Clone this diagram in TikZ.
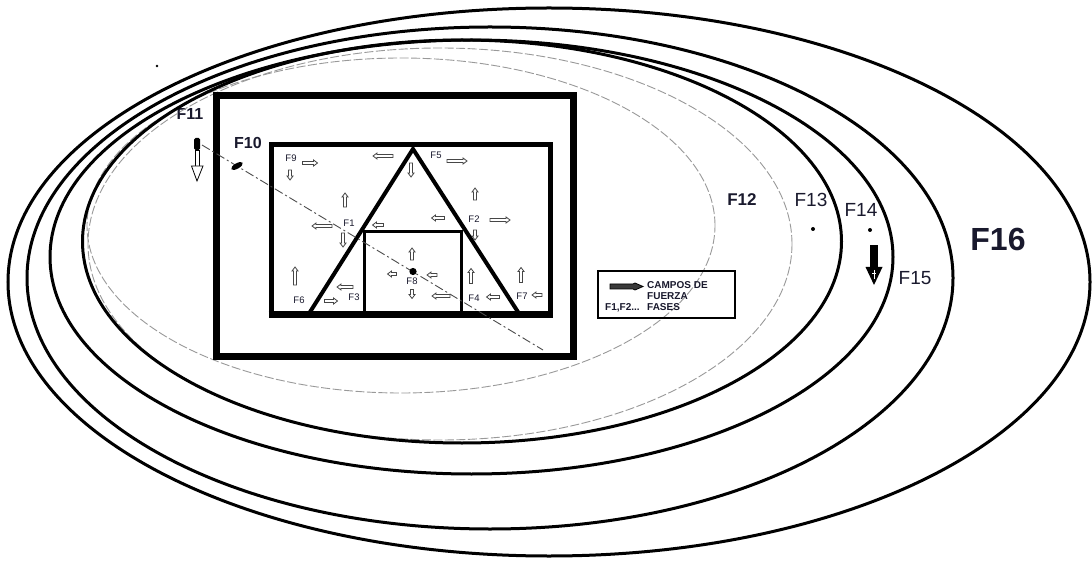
\documentclass[tikz,border=0pt]{standalone}
\usepackage{fontspec}
\setmainfont{Liberation Sans}
\definecolor{labc}{RGB}{25,25,45}
\newcommand\fldarrow[4]{\draw[fld, shift={(#1,#2)}, rotate=#3] (-#4/2,-1.5) -- (#4/2-4,-1.5) -- (#4/2-4,-3) -- (#4/2,0) -- (#4/2-4,3) -- (#4/2-4,1.5) -- (-#4/2,1.5) -- cycle;}
\begin{document}
\begin{tikzpicture}[x=1pt,y=-1pt,
  ell/.style={line width=3pt},
  gell/.style={draw=gray!80, line width=0.9pt, dash pattern=on 9pt off 2.5pt},
  diag/.style={draw=gray!60!black, line width=0.9pt, dash pattern=on 9pt off 3pt on 2pt off 3pt},
  fld/.style={draw=gray!55!black, fill=white, line width=0.8pt},
  small/.style={font=\fontsize{9.5}{9.5}\selectfont, text=labc, inner sep=0pt},
  big/.style={font=\fontsize{19}{19}\selectfont, text=labc, inner sep=0pt},
  bigb/.style={font=\bfseries\fontsize{16}{16}\selectfont, text=labc, inner sep=0pt},
  leg/.style={font=\bfseries\fontsize{10}{10}\selectfont, text=labc, inner sep=0pt, anchor=base west}]

\fill[white] (0,0) rectangle (1092,561);
\useasboundingbox (0,0) rectangle (1092,561);

% labels outside the rectangles
\node[bigb] (f11) at (190,114) {F11};
\node[bigb] (f10) at (248,142.5) {F10};
\node[font=\bfseries\fontsize{17}{17}\selectfont, text=labc, inner sep=0pt] (f12) at (742,200) {F12};
\node[big] (f13) at (811,200) {F13};
\node[big] (f14) at (861,210) {F14};
\node[big] (f15) at (915,278) {F15};
\node[font=\bfseries\fontsize{32}{32}\selectfont, text=labc, inner sep=0pt] (f16) at (998,239) {F16};

% grey dashed ellipses
\draw[gell] (440,244) ellipse [x radius=352pt, y radius=196pt];
\draw[gell] (401,225.5) ellipse [x radius=314pt, y radius=167.5pt];

% black ellipses
\draw[ell] (549,282) ellipse [x radius=541pt, y radius=274pt];
\draw[ell] (490,278) ellipse [x radius=463pt, y radius=251pt];
\draw[ell] (471.5,257) ellipse [x radius=421.5pt, y radius=217pt];
\draw[ell] (462,241.5) ellipse [x radius=379.5pt, y radius=201.5pt];

% stray dot
\fill (157,66) circle[radius=1.3pt];

% outer rectangle
\draw[line width=7pt] (216.5,95.5) rectangle (573,356.5);
% inner rectangle
\draw[line width=5pt] (271,145) rectangle (550,313);
\draw[line width=7pt] (268.5,314) -- (552.5,314);
% triangle
\draw[line width=4pt, line join=miter] (310,312) -- (413,149) -- (518,312);
% inner square
\draw[line width=3pt] (364,312) -- (364,232) -- (461,232) -- (461,312);

% diagonal dashed line
\coordinate (d1) at (202,145);
\coordinate (d2) at (543,350);
\draw[diag] (d1) -- (d2);

% F11 marker
\fill[rounded corners=1.5pt] (194,138) rectangle (200,150);
\draw[line width=0.8pt, fill=white] (195,150) rectangle (199.5,167);
\draw[line width=0.8pt, fill=white] (191.5,166) -- (203,166) -- (197,181) -- cycle;
% F10 marker
\fill[rotate around={30:(237,166)}] (237,166) ellipse [x radius=6.5pt, y radius=2.7pt];
% F8 dot
\fill (413,271.5) circle[radius=3.6pt];
% F13, F14 dots
\fill (813,229) circle[radius=2pt];
\fill (870,230) circle[radius=2pt];
% F15 marker
\fill (870,245) rectangle (878,268);
\fill (865.5,267) -- (882.5,267) -- (874,285) -- cycle;
\draw[white, line width=0.8pt] (874,270) -- (874,279) (872,273) -- (876,273);

% small labels
\node[small] (f9) at (291,158) {F9};
\node[small] (f1) at (349,223) {F1};
\node[small] (f5) at (436,155) {F5};
\node[small] (f2) at (474,219) {F2};
\node[small] (f8) at (412,281.5) {F8};
\node[small] (f4) at (474,298) {F4};
\node[small] (f7) at (522,296) {F7};
\node[small] (f6) at (299,300) {F6};
\node[small] (f3) at (354,297) {F3};

% field arrows
\fldarrow{310}{163}{0}{15}
\fldarrow{290}{175}{270}{10}
\fldarrow{383}{156}{180}{20}
\fldarrow{411}{170}{270}{14}
\fldarrow{345}{200}{90}{14}
\fldarrow{322}{226}{180}{20}
\fldarrow{378}{225}{180}{11}
\fldarrow{343}{240}{270}{14}
\fldarrow{457}{161}{0}{20}
\fldarrow{475}{194}{90}{12}
\fldarrow{438}{218}{180}{13}
\fldarrow{500}{220}{0}{20}
\fldarrow{475}{235}{270}{10}
\fldarrow{412}{254}{90}{12}
\fldarrow{392}{274}{180}{9}
\fldarrow{432}{275}{180}{10}
\fldarrow{412}{294}{270}{9}
\fldarrow{441}{296}{180}{18}
\fldarrow{471}{276}{90}{15}
\fldarrow{493}{297}{180}{13}
\fldarrow{521}{275}{90}{15}
\fldarrow{537}{295}{180}{10}
\fldarrow{295}{276}{90}{18}
\fldarrow{345}{287}{180}{16}
\fldarrow{331}{301}{0}{13}

% legend
\draw[line width=1.6pt] (598,271) rectangle (735,318);
\draw[fill=gray!45!black, line width=0.8pt] (610,284) -- (633,284) -- (635,283) -- (643,286.5) -- (635,290) -- (633,289) -- (610,289) -- cycle;
\node[leg] (l1) at (647,288) {CAMPOS DE};
\node[leg] (l2) at (647,300) {FUERZA};
\node[leg] (l3) at (605,310) {F1,F2...};
\node[leg] (l4) at (647,310) {FASES};
\end{tikzpicture}
\end{document}
